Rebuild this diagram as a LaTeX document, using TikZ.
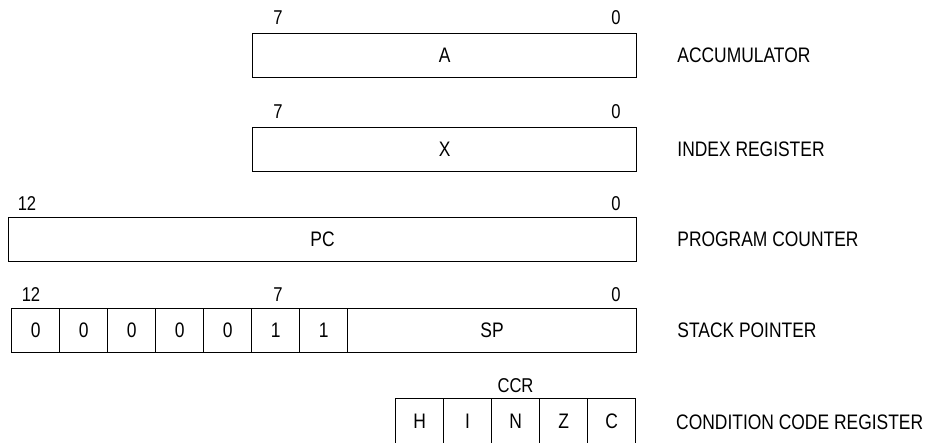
\documentclass[tikz,border=0pt]{standalone}
\usepackage{fontspec}
\setmainfont{Liberation Sans}[FakeStretch=0.83]
\usetikzlibrary{positioning}

\tikzset{
  reg/.style={draw, line width=1.2pt, inner sep=0pt, minimum height=44pt,
    anchor=north west, font=\fontsize{21}{24}\selectfont},
  ccrbit/.style={reg, minimum width=48pt, text height=29.5pt, text depth=32.5pt},
  bitno/.style={inner sep=0pt, font=\fontsize{20}{22}\selectfont},
  regname/.style={inner sep=0pt, anchor=west, font=\fontsize{21}{24}\selectfont}
}

\begin{document}
\begin{tikzpicture}[x=1pt, y=-1pt]
\useasboundingbox (0,0) rectangle (925,442);
\clip (0,0) rectangle (925,442);

% accumulator
\node[reg, minimum width=384pt] (acc) at (252,33) {A};
\node[bitno] (acc7) at (278,18) {7};
\node[bitno] (acc0) at (616,18) {0};
\node[regname, right=40pt of acc] (accname) {ACCUMULATOR};

% index register
\node[reg, minimum width=384pt] (idx) at (252,127) {X};
\node[bitno] (idx7) at (278,112) {7};
\node[bitno] (idx0) at (616,112) {0};
\node[regname, right=40pt of idx] (idxname) {INDEX REGISTER};

% program counter
\node[reg, minimum width=628pt] (pc) at (8,217) {PC};
\node[bitno] (pc12) at (27,204) {12};
\node[bitno] (pc0) at (616,204) {0};
\node[regname, right=40pt of pc] (pcname) {PROGRAM COUNTER};

% stack pointer
\foreach \b [count=\i from 0] in {0,0,0,0,0,1,1}
  \node[reg, minimum width=48pt] (sp\i) at (11+48*\i,308) {\b};
\node[reg, minimum width=289pt] (sp) at (347,308) {SP};
\node[bitno] (sp12) at (31,295) {12};
\node[bitno] (sp7) at (278,295) {7};
\node[bitno] (sp0) at (616,295) {0};
\node[regname, right=40pt of sp] (spname) {STACK POINTER};

% condition code register
\foreach \f [count=\i from 0] in {H,I,N,Z,C}
  \node[ccrbit] (ccr\i) at (395+48*\i,398) {\f};
\node[bitno] (ccr) at (515.5,386) {CCR};
\node[regname] (ccrname) at (676,422) {CONDITION CODE REGISTER};
\end{tikzpicture}
\end{document}
